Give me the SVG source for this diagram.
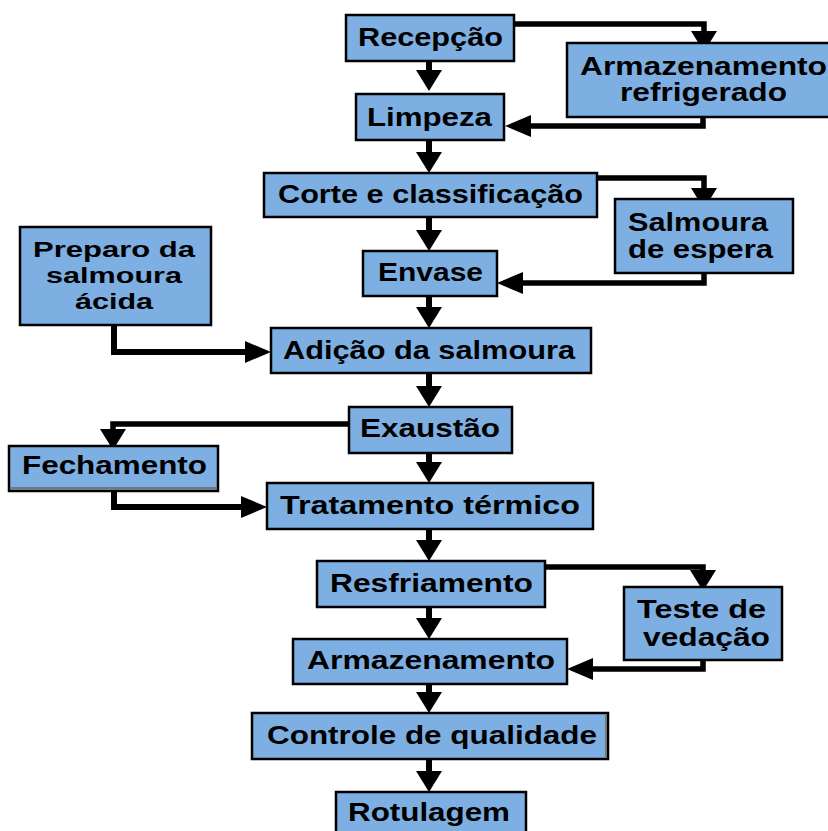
<svg xmlns="http://www.w3.org/2000/svg" width="828" height="831" viewBox="0 0 828 831">
<style>
.box{fill:#7DAFE2;stroke:#000;stroke-width:2.5}
.t{font-family:"Liberation Sans",Arial,sans-serif;font-weight:bold;font-size:25px;fill:#000}
.p{font-size:22.5px}
.c{fill:none;stroke:#000;stroke-width:6}
.s{fill:none;stroke:#000;stroke-width:5.5}
</style>
<defs>
<marker id="hv" markerUnits="userSpaceOnUse" markerWidth="22" markerHeight="26" refX="0" refY="13" orient="auto"><path d="M0,0 L21,13 L0,26 z" fill="#000"/></marker>
<marker id="hs" markerUnits="userSpaceOnUse" markerWidth="28" markerHeight="22" refX="0" refY="11" orient="auto"><path d="M0,0 L26,11 L0,22 z" fill="#000"/></marker>
</defs>
<rect width="828" height="831" fill="#fff"/>
<g id="connectors">
<path class="c" d="M429,61 V70" marker-end="url(#hv)"/>
<path class="c" d="M429,140 V152" marker-end="url(#hv)"/>
<path class="c" d="M429,217 V230" marker-end="url(#hv)"/>
<path class="c" d="M429,296 V307" marker-end="url(#hv)"/>
<path class="c" d="M429,373 V386" marker-end="url(#hv)"/>
<path class="c" d="M429,453 V462" marker-end="url(#hv)"/>
<path class="c" d="M429,529 V540" marker-end="url(#hv)"/>
<path class="c" d="M429,607 V618" marker-end="url(#hv)"/>
<path class="c" d="M429,684 V692" marker-end="url(#hv)"/>
<path class="c" d="M429,759 V771" marker-end="url(#hv)"/>
<path class="s" d="M508,24 H704 V31" marker-end="url(#hv)"/>
<path class="s" d="M703,117 V126 H531" marker-end="url(#hs)"/>
<path class="s" d="M587,178 H704 V188" marker-end="url(#hv)"/>
<path class="s" d="M704,273 V283 H523" marker-end="url(#hs)"/>
<path class="c" d="M114,325 V352 H245" marker-end="url(#hs)"/>
<path class="s" d="M353,424 H113 V429" marker-end="url(#hv)"/>
<path class="c" d="M114,479 V507 H241" marker-end="url(#hs)"/>
<path class="s" d="M537,567 H703 V570" marker-end="url(#hv)"/>
<path class="s" d="M703,660 V669 H593" marker-end="url(#hs)"/>
</g>
<g id="recepcao"><rect class="box" x="346" y="15" width="168" height="46"/><text class="t" x="358" y="46" textLength="145" lengthAdjust="spacingAndGlyphs">Recepção</text></g>
<g id="armazenamento-refrigerado"><rect class="box" x="567" y="43" width="265" height="74"/><text class="t" x="580" y="75" textLength="247" lengthAdjust="spacingAndGlyphs">Armazenamento</text><text class="t" x="620" y="101" textLength="167" lengthAdjust="spacingAndGlyphs">refrigerado</text></g>
<g id="limpeza"><rect class="box" x="356" y="94" width="148" height="46"/><text class="t" x="367" y="126" textLength="125" lengthAdjust="spacingAndGlyphs">Limpeza</text></g>
<g id="corte"><rect class="box" x="264" y="173" width="333" height="44"/><text class="t" x="278" y="203" textLength="305" lengthAdjust="spacingAndGlyphs">Corte e classificação</text></g>
<g id="salmoura-espera"><rect class="box" x="615" y="199" width="178" height="74"/><text class="t" x="628" y="231" textLength="140" lengthAdjust="spacingAndGlyphs">Salmoura</text><text class="t" x="628" y="258" textLength="145" lengthAdjust="spacingAndGlyphs">de espera</text></g>
<g id="envase"><rect class="box" x="363" y="251" width="134" height="45"/><text class="t" x="378" y="281" textLength="105" lengthAdjust="spacingAndGlyphs">Envase</text></g>
<g id="preparo"><rect class="box" x="20" y="227" width="191" height="98"/><text class="t p" x="33" y="257" textLength="162" lengthAdjust="spacingAndGlyphs">Preparo da</text><text class="t p" x="46" y="283" textLength="136" lengthAdjust="spacingAndGlyphs">salmoura</text><text class="t p" x="75" y="309" textLength="78" lengthAdjust="spacingAndGlyphs">ácida</text></g>
<g id="adicao"><rect class="box" x="271" y="328" width="320" height="45"/><text class="t" x="283" y="359" textLength="292" lengthAdjust="spacingAndGlyphs">Adição da salmoura</text></g>
<g id="exaustao"><rect class="box" x="349" y="407" width="163" height="46"/><text class="t" x="360" y="437" textLength="140" lengthAdjust="spacingAndGlyphs">Exaustão</text></g>
<g id="fechamento"><rect class="box" x="9" y="446" width="209" height="45"/><line x1="10" y1="488" x2="217" y2="488" stroke="#777" stroke-width="2"/><text class="t" x="22" y="474" textLength="185" lengthAdjust="spacingAndGlyphs">Fechamento</text></g>
<g id="tratamento"><rect class="box" x="267" y="483" width="326" height="46"/><text class="t" x="280" y="514" textLength="300" lengthAdjust="spacingAndGlyphs">Tratamento térmico</text></g>
<g id="resfriamento"><rect class="box" x="317" y="561" width="228" height="46"/><text class="t" x="330" y="592" textLength="203" lengthAdjust="spacingAndGlyphs">Resfriamento</text></g>
<g id="teste"><rect class="box" x="624" y="587" width="158" height="73"/><text class="t" x="637" y="618" textLength="129" lengthAdjust="spacingAndGlyphs">Teste de</text><text class="t" x="643" y="646" textLength="127" lengthAdjust="spacingAndGlyphs">vedação</text></g>
<g id="armazenamento"><rect class="box" x="293" y="639" width="274" height="45"/><text class="t" x="307" y="669" textLength="248" lengthAdjust="spacingAndGlyphs">Armazenamento</text></g>
<g id="controle"><rect class="box" x="252" y="713" width="356" height="46"/><line x1="606" y1="714" x2="606" y2="758" stroke="#777" stroke-width="2"/><text class="t" x="267" y="744" textLength="330" lengthAdjust="spacingAndGlyphs">Controle de qualidade</text></g>
<g id="rotulagem"><rect class="box" x="336" y="792" width="190" height="45"/><text class="t" x="348" y="821" textLength="162" lengthAdjust="spacingAndGlyphs">Rotulagem</text></g>
</svg>
